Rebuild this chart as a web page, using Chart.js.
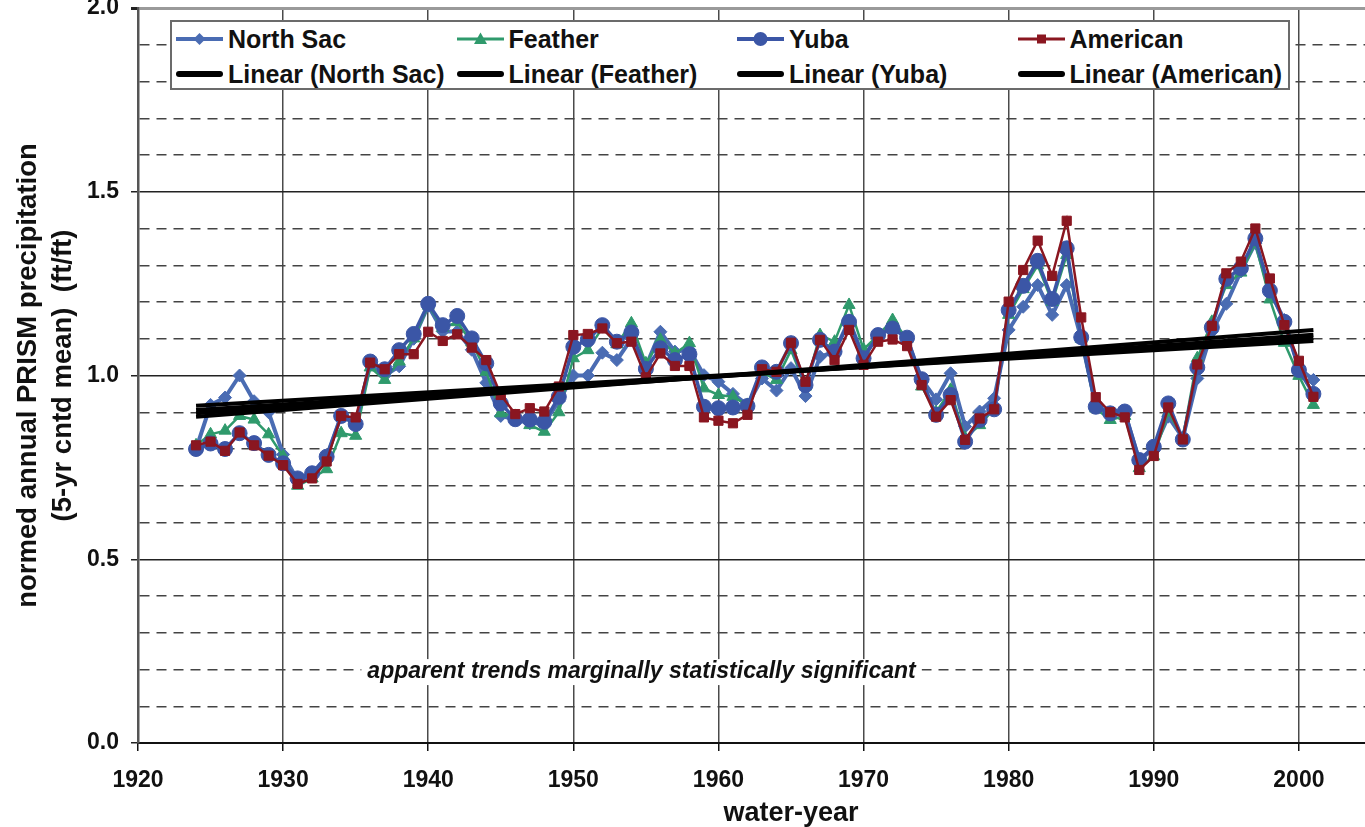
<!DOCTYPE html>
<html>
<head>
<meta charset="utf-8">
<script src="https://cdn.jsdelivr.net/npm/chart.js@4.4.0/dist/chart.umd.min.js"></script>
<style>
html, body { margin:0; padding:0; background:#fff; overflow:hidden; width:1365px; height:827px; }
#wrap { position:absolute; left:0; top:-20px; width:1460px; height:852px; }
#legend { position:absolute; left:170px; top:20px; width:1116px; height:66px; border:2px solid #6b6b6b; background:#fff;
  font: bold 25px "Liberation Sans", Arial, sans-serif; color:#111; }
.item { position:absolute; display:flex; align-items:center; height:30px; white-space:nowrap; }
.item svg { margin-right:5px; }
</style>
</head>
<body>
<div id="wrap"><canvas id="chart" width="1460" height="852"></canvas></div>
<div id="legend"></div>
<script>
// water years on the x axis
const years = [1924,1925,1926,1927,1928,1929,1930,1931,1932,1933,1934,1935,1936,1937,1938,1939,
  1940,1941,1942,1943,1944,1945,1946,1947,1948,1949,1950,1951,1952,1953,1954,1955,1956,1957,1958,1959,
  1960,1961,1962,1963,1964,1965,1966,1967,1968,1969,1970,1971,1972,1973,1974,1975,1976,1977,1978,1979,
  1980,1981,1982,1983,1984,1985,1986,1987,1988,1989,1990,1991,1992,1993,1994,1995,1996,1997,1998,1999,
  2000,2001];

// 5-yr centered mean of normed annual precipitation (ft/ft)
const northSac = [0.80,0.92,0.94,1.00,0.93,0.90,0.785,0.715,0.73,0.78,0.89,0.87,1.03,1.00,1.025,1.10,
  1.19,1.12,1.12,1.07,0.98,0.89,0.88,0.87,0.87,0.93,1.00,1.00,1.062,1.042,1.10,1.025,1.119,1.065,1.07,1.001,
  0.983,0.95,0.92,0.992,0.959,1.02,0.944,1.051,1.065,1.15,1.05,1.11,1.14,1.10,0.99,0.935,1.006,0.861,0.902,0.938,
  1.124,1.187,1.246,1.165,1.246,1.10,0.92,0.895,0.90,0.77,0.80,0.888,0.83,0.992,1.119,1.195,1.283,1.36,1.23,1.151,
  1.02,0.988];
const feather = [0.81,0.84,0.85,0.89,0.88,0.84,0.78,0.70,0.72,0.745,0.843,0.836,1.022,0.988,1.038,1.101,
  1.19,1.13,1.145,1.09,1.01,0.897,0.89,0.865,0.847,0.90,1.047,1.069,1.13,1.085,1.142,1.033,1.097,1.06,1.088,0.965,
  0.947,0.942,0.92,1.01,0.988,1.069,0.97,1.11,1.092,1.192,1.071,1.11,1.151,1.10,0.97,0.90,0.961,0.83,0.865,0.91,
  1.165,1.235,1.30,1.20,1.328,1.10,0.91,0.879,0.89,0.748,0.78,0.90,0.83,1.047,1.146,1.246,1.28,1.36,1.207,1.089,
  0.999,0.92];
const yuba = [0.80,0.815,0.80,0.843,0.816,0.784,0.761,0.72,0.734,0.779,0.89,0.868,1.038,1.017,1.069,1.113,
  1.195,1.137,1.162,1.101,1.033,0.924,0.881,0.88,0.874,0.942,1.078,1.098,1.137,1.092,1.117,1.018,1.074,1.042,1.058,0.915,
  0.911,0.913,0.917,1.022,1.01,1.088,0.974,1.097,1.065,1.146,1.047,1.11,1.128,1.103,0.99,0.893,0.947,0.82,0.879,0.908,
  1.178,1.244,1.312,1.208,1.346,1.104,0.915,0.897,0.902,0.77,0.806,0.924,0.826,1.022,1.131,1.263,1.292,1.373,1.231,1.146,
  1.015,0.95];
const american = [0.81,0.82,0.795,0.845,0.81,0.782,0.756,0.705,0.72,0.766,0.89,0.886,1.035,1.017,1.058,1.058,
  1.119,1.094,1.112,1.076,1.042,0.947,0.895,0.911,0.902,0.97,1.11,1.113,1.128,1.088,1.092,0.995,1.06,1.026,1.026,0.886,
  0.877,0.87,0.893,1.017,1.01,1.089,0.983,1.097,1.042,1.124,1.029,1.092,1.098,1.08,0.974,0.888,0.933,0.825,0.883,0.908,
  1.201,1.287,1.367,1.271,1.421,1.158,0.941,0.90,0.886,0.743,0.781,0.913,0.826,1.03,1.135,1.278,1.31,1.40,1.264,1.137,
  1.04,0.942];

// linear trend end points (first year, last year)
const trendYears = [1924, 2001];
const trendNorthSac = [0.918, 1.094];
const trendFeather = [0.906, 1.102];
const trendYuba = [0.897, 1.111];
const trendAmerican = [0.888, 1.124];

// axis ticks
const xTicks = [1920,1930,1940,1950,1960,1970,1980,1990,2000];
const yGrid = [0,0.1,0.2,0.3,0.4,0.5,0.6,0.7,0.8,0.9,1.0,1.1,1.2,1.3,1.4,1.5,1.6,1.7,1.8,1.9,2.0];
const yLabels = [0,0.5,1.0,1.5,2.0];

const noteText = 'apparent trends marginally statistically significant';
const noteAt = [1954.7, 0.193];

const FONT = '"Liberation Sans", Arial, sans-serif';
const colNorthSac = '#4a6cb3';
const colFeather = '#2f9a6c';
const colYuba = '#3b56a6';
const colAmerican = '#8a1620';

function isLabel(v) {
    return yLabels.some(l => Math.abs(l - v) < 1e-6);
}

function series(label, values, color, style, radius, width, order) {
    return {
        label: label,
        data: years.map((x, i) => ({x: x, y: values[i]})),
        borderColor: color,
        backgroundColor: color,
        borderWidth: width,
        pointStyle: style,
        pointRadius: radius,
        pointBorderWidth: 1,
        pointBorderColor: color,
        pointBackgroundColor: color,
        tension: 0,
        order: order
    };
}

function trend(label, ends) {
    return {
        label: label,
        data: trendYears.map((x, i) => ({x: x, y: ends[i]})),
        borderColor: '#000',
        borderWidth: 4,
        pointRadius: 0,
        tension: 0,
        order: 0
    };
}

const notePlugin = {
    id: 'note',
    beforeDatasetsDraw(chart) {
        const {ctx, scales: {x, y}} = chart;
        ctx.save();
        ctx.font = 'italic bold 23px ' + FONT;
        ctx.textAlign = 'center';
        ctx.textBaseline = 'middle';
        const px = x.getPixelForValue(noteAt[0]);
        const py = y.getPixelForValue(noteAt[1]);
        const w = ctx.measureText(noteText).width;
        ctx.fillStyle = '#fff';
        ctx.fillRect(px - w / 2 - 6, py - 13, w + 12, 26);
        ctx.fillStyle = '#111';
        ctx.fillText(noteText, px, py);
        ctx.restore();
    }
};

const ctx = document.getElementById('chart').getContext('2d');
new Chart(ctx, {
    type: 'line',
    data: {
        datasets: [
            trend('Linear (North Sac)', trendNorthSac),
            trend('Linear (Feather)', trendFeather),
            trend('Linear (Yuba)', trendYuba),
            trend('Linear (American)', trendAmerican),
            series('American', american, colAmerican, 'rect', 6.5, 2.5, 1),
            series('Yuba', yuba, colYuba, 'circle', 7.5, 3.5, 2),
            series('Feather', feather, colFeather, 'triangle', 7, 2.5, 3),
            series('North Sac', northSac, colNorthSac, 'rectRot', 6.5, 4, 4)
        ]
    },
    options: {
        responsive: false,
        animation: false,
        devicePixelRatio: 1,
        layout: { padding: { left: 0, top: 28, right: 16, bottom: 0 } },
        plugins: {
            legend: { display: false },
            tooltip: { enabled: false }
        },
        scales: {
            x: {
                type: 'linear',
                min: 1920,
                max: 2010,
                afterBuildTicks: s => { s.ticks = xTicks.map(v => ({value: v})); },
                afterFit: s => { s.height = 89; },
                ticks: {
                    callback: v => String(v),
                    font: { family: FONT, size: 23, weight: 'bold' },
                    color: '#111',
                    padding: 16,
                    maxRotation: 0,
                    autoSkip: false
                },
                grid: { color: '#4a4a4a', lineWidth: 1.5, tickLength: 8, tickColor: '#111' },
                border: { color: '#111', width: 2 },
                title: {
                    display: true,
                    text: 'water-year',
                    font: { family: FONT, size: 27, weight: 'bold' },
                    color: '#111',
                    padding: { top: 0, bottom: 2 }
                }
            },
            y: {
                min: 0,
                max: 2,
                afterBuildTicks: s => { s.ticks = yGrid.map(v => ({value: v})); },
                afterFit: s => { s.width = 138; },
                ticks: {
                    callback: v => isLabel(v) ? v.toFixed(1) : '',
                    font: { family: FONT, size: 23, weight: 'bold' },
                    color: '#111',
                    padding: 12,
                    autoSkip: false
                },
                grid: {
                    color: c => {
                        const v = c.tick ? c.tick.value : 0;
                        if (Math.abs(v - 2) < 1e-6) return '#9a9a9a';
                        return isLabel(v) ? '#222' : '#444';
                    },
                    lineWidth: c => {
                        const v = c.tick ? c.tick.value : 0;
                        return Math.abs(v - 2) < 1e-6 ? 3 : 1.5;
                    },
                    tickLength: 7,
                    tickColor: c => (c.tick && isLabel(c.tick.value)) ? '#222' : 'rgba(0,0,0,0)'
                },
                border: {
                    color: '#555',
                    width: 2.5,
                    dash: c => (c.tick && !isLabel(c.tick.value)) ? [10, 7] : []
                },
                title: {
                    display: true,
                    text: ['normed annual PRISM precipitation', '(5-yr cntd mean)  (ft/ft)'],
                    font: { family: FONT, size: 27.5, weight: 'bold', lineHeight: 1.28 },
                    color: '#111',
                    padding: { top: 11, bottom: 0 }
                }
            }
        }
    },
    plugins: [notePlugin]
});

// legend drawn as html, 4 columns x 2 rows
const legendItems = [
    { text: 'North Sac', swatch: 'ns' },
    { text: 'Feather', swatch: 'fe' },
    { text: 'Yuba', swatch: 'yu' },
    { text: 'American', swatch: 'am' },
    { text: 'Linear (North Sac)', swatch: 'lin' },
    { text: 'Linear (Feather)', swatch: 'lin' },
    { text: 'Linear (Yuba)', swatch: 'lin' },
    { text: 'Linear (American)', swatch: 'lin' }
];

function swatchSvg(kind) {
    let inner = '';
    if (kind === 'ns') {
        inner = '<line x1="0" y1="10" x2="47" y2="10" stroke="' + colNorthSac + '" stroke-width="4"/>' +
            '<polygon points="23.5,4 29.5,10 23.5,16 17.5,10" fill="' + colNorthSac + '"/>';
    } else if (kind === 'fe') {
        inner = '<line x1="0" y1="10" x2="47" y2="10" stroke="' + colFeather + '" stroke-width="3"/>' +
            '<polygon points="23.5,3.5 30,15 17,15" fill="' + colFeather + '"/>';
    } else if (kind === 'yu') {
        inner = '<line x1="0" y1="10" x2="47" y2="10" stroke="' + colYuba + '" stroke-width="4"/>' +
            '<circle cx="23.5" cy="10" r="7" fill="' + colYuba + '"/>';
    } else if (kind === 'am') {
        inner = '<line x1="0" y1="10" x2="47" y2="10" stroke="' + colAmerican + '" stroke-width="3"/>' +
            '<rect x="19" y="5.5" width="9" height="9" fill="' + colAmerican + '"/>';
    } else {
        inner = '<line x1="3" y1="10" x2="44" y2="10" stroke="#000" stroke-width="6" stroke-linecap="round"/>';
    }
    return '<svg width="47" height="20" viewBox="0 0 47 20">' + inner + '</svg>';
}

const legend = document.getElementById('legend');
legendItems.forEach((item, i) => {
    const col = i % 4;
    const row = Math.floor(i / 4);
    const div = document.createElement('div');
    div.className = 'item';
    div.style.left = (4 + col * 280.5) + 'px';
    div.style.top = (row === 0 ? 2 : 37) + 'px';
    div.innerHTML = swatchSvg(item.swatch) + '<span>' + item.text + '</span>';
    legend.appendChild(div);
});
</script>
</body>
</html>
